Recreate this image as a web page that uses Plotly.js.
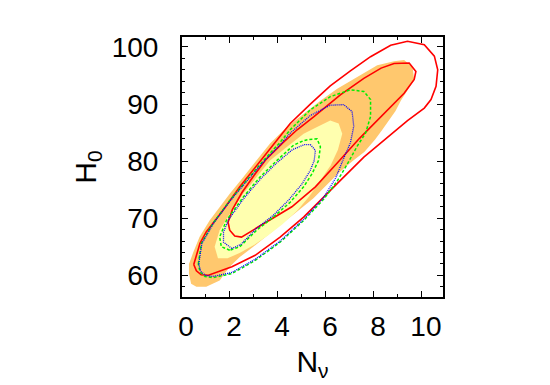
<!DOCTYPE html>
<html>
<head>
<meta charset="utf-8">
<script src="https://cdn.plot.ly/plotly-3.0.1.min.js"></script>
<style>
  html, body { margin: 0; padding: 0; background: #fff; }
  #plot { width: 550px; height: 385px; }
</style>
</head>
<body>
<div id="plot"></div>
<script>
// 2 sigma filled region (orange)
var fill2x = [0.60, 0.38, 0.29, 0.29, 0.45, 0.73, 1.15, 1.57, 1.99, 2.55, 3.11, 3.67, 4.37, 5.07, 5.77, 6.47, 7.30, 8.14, 8.84, 9.26, 9.61, 9.68, 9.40, 9.12, 8.90, 8.65, 8.35, 8.05, 7.60, 7.10, 6.60, 6.05, 5.48, 4.93, 4.23, 3.67, 2.97, 2.41, 1.99, 1.57, 1.01];
var fill2y = [58.0, 58.5, 60.3, 62.0, 63.8, 66.7, 69.6, 72.0, 74.3, 77.2, 80.1, 83.1, 86.0, 88.3, 90.6, 92.7, 94.7, 96.8, 97.5, 97.7, 96.5, 94.2, 92.4, 90.6, 88.8, 87.2, 85.5, 83.8, 81.6, 80.0, 78.2, 75.9, 73.5, 71.6, 69.2, 67.3, 65.0, 63.2, 61.5, 59.1, 58.0];

// 1 sigma filled region (yellow)
var fill1x = [1.50, 1.36, 1.57, 1.99, 2.55, 3.11, 3.67, 4.37, 5.07, 5.63, 6.18, 6.53, 6.68, 6.50, 6.20, 5.80, 5.30, 4.80, 4.20, 3.60, 3.00, 2.40, 1.90];
var fill1y = [63.0, 65.0, 67.9, 70.8, 74.3, 77.2, 80.1, 82.5, 84.8, 86.0, 87.1, 86.6, 84.8, 82.0, 79.3, 76.8, 73.8, 71.3, 69.0, 67.0, 65.3, 63.9, 63.0];

// red contours
var red2x = [0.49, 0.75, 1.01, 1.71, 2.41, 3.11, 3.81, 4.51, 5.35, 6.18, 7.02, 7.86, 8.70, 9.40, 10.10, 10.52, 10.66, 10.59, 10.38, 10.10, 9.40, 8.42, 7.58, 6.74, 5.90, 5.07, 4.09, 3.05, 2.08, 1.10, 0.80, 0.60, 0.49];
var red2y = [61.9, 65.6, 67.6, 71.4, 75.5, 79.2, 82.8, 86.6, 90.0, 93.2, 95.8, 98.3, 100.3, 101.0, 100.4, 98.4, 96.0, 93.1, 90.8, 89.3, 87.1, 83.6, 80.7, 77.2, 73.7, 70.2, 66.7, 63.5, 61.5, 60.0, 60.1, 60.8, 61.9];
var red1x = [1.99, 1.92, 2.10, 2.50, 3.00, 3.50, 4.20, 4.80, 5.50, 6.60, 7.58, 8.30, 8.84, 9.47, 9.75, 9.68, 9.26, 8.42, 7.40, 6.50, 5.56, 4.58, 3.46, 2.48, 2.20, 1.99];
var red1y = [67.9, 69.3, 71.5, 74.5, 77.5, 80.3, 83.2, 85.5, 87.8, 91.6, 94.5, 96.3, 97.1, 97.2, 95.7, 94.3, 91.9, 88.3, 84.0, 79.8, 75.5, 72.0, 69.1, 66.7, 66.9, 67.9];

// green contours
var green2x = [0.68, 0.81, 1.29, 1.99, 2.69, 3.39, 4.09, 4.51, 5.35, 6.18, 7.02, 7.58, 7.86, 7.86, 7.65, 7.30, 6.88, 6.47, 5.90, 5.07, 4.09, 3.05, 2.08, 1.30, 0.96, 0.75, 0.68];
var green2y = [62.0, 65.6, 69.1, 73.1, 76.6, 80.1, 83.3, 85.5, 89.0, 91.3, 92.5, 92.2, 90.8, 87.8, 84.9, 82.6, 79.4, 76.5, 73.3, 69.6, 65.8, 62.6, 60.3, 59.6, 59.8, 60.6, 62.0];
var green1x = [1.99, 1.64, 1.57, 1.85, 2.55, 3.25, 3.95, 4.65, 5.07, 5.27, 5.63, 5.77, 5.69, 5.42, 5.07, 4.51, 3.81, 3.11, 2.41, 1.99];
var green1y = [64.4, 65.0, 66.7, 69.6, 73.7, 77.2, 80.1, 82.8, 83.6, 83.8, 83.9, 82.5, 80.1, 77.8, 75.5, 72.8, 70.2, 67.9, 65.0, 64.4];

// blue contours
var blue2x = [0.70, 0.83, 1.31, 2.00, 2.70, 3.40, 4.10, 4.51, 5.35, 6.18, 6.74, 7.09, 7.16, 7.02, 6.74, 6.40, 5.90, 5.07, 4.09, 3.05, 2.08, 1.30, 0.98, 0.78, 0.70];
var blue2y = [62.0, 65.6, 69.1, 73.0, 76.5, 79.9, 82.9, 84.9, 88.0, 89.8, 89.9, 88.7, 86.1, 83.2, 80.5, 77.0, 73.6, 69.8, 66.0, 62.8, 60.5, 59.8, 60.0, 60.7, 62.0];
var blue1x = [2.08, 1.73, 1.73, 1.95, 2.60, 3.30, 3.95, 4.60, 5.10, 5.35, 5.56, 5.51, 5.35, 5.00, 4.45, 3.80, 3.10, 2.45, 2.08];
var blue1y = [64.7, 65.8, 67.6, 69.8, 73.6, 77.0, 79.7, 82.0, 82.9, 82.9, 81.9, 80.1, 78.4, 76.0, 73.2, 70.5, 68.2, 65.4, 64.7];

var orange = 'rgb(255,200,110)';
var yellow = 'rgb(255,255,175)';

function area(x, y, c) {
    return {x: x, y: y, mode: 'lines', fill: 'toself', fillcolor: c,
            line: {width: 0, color: c}, hoverinfo: 'none'};
}
function contour(x, y, c, w, dash) {
    return {x: x, y: y, mode: 'lines', hoverinfo: 'none',
            line: {color: c, width: w, dash: dash}};
}

var data = [
    area(fill2x, fill2y, orange),
    area(fill1x, fill1y, yellow),
    contour(red2x, red2y, '#ff0000', 1.6, 'solid'),
    contour(red1x, red1y, '#ff0000', 1.6, 'solid'),
    contour(green2x, green2y, '#00ee00', 1.5, '3px,2px'),
    contour(green1x, green1y, '#00ee00', 1.5, '3px,2px'),
    contour(blue2x, blue2y, '#0000ff', 1.3, '1px,1px'),
    contour(blue1x, blue1y, '#0000ff', 1.3, '1px,1px')
];

var tickfont = {family: 'Liberation Sans, Arial, sans-serif', size: 28, color: '#000'};
var titlefont = {family: 'Liberation Sans, Arial, sans-serif', size: 30, color: '#000'};

var layout = {
    width: 550,
    height: 385,
    showlegend: false,
    paper_bgcolor: '#fff',
    plot_bgcolor: '#fff',
    margin: {l: 182, r: 107, t: 37, b: 88},
    xaxis: {
        range: [0, 10.88],
        tickmode: 'linear', tick0: 0, dtick: 2,
        ticks: 'inside', ticklen: 6, tickwidth: 1, tickcolor: '#000',
        minor: {ticks: 'inside', ticklen: 3, dtick: 1, tickcolor: '#000'},
        showline: true, linecolor: '#000', linewidth: 2, mirror: 'allticks',
        showgrid: false, zeroline: false,
        tickfont: tickfont,
        ticklabelstandoff: 3,
        ticklabelshift: 4,
        title: {text: 'N<sub>ν</sub>', font: titlefont, standoff: 10}
    },
    yaxis: {
        range: [56.2, 101.75],
        tickmode: 'linear', tick0: 60, dtick: 10,
        ticks: 'inside', ticklen: 6, tickwidth: 1, tickcolor: '#000',
        minor: {ticks: 'inside', ticklen: 3, dtick: 2, tickcolor: '#000'},
        showline: true, linecolor: '#000', linewidth: 2, mirror: 'allticks',
        showgrid: false, zeroline: false,
        tickfont: tickfont,
        ticklabelstandoff: 16,
        title: {text: 'H<sub>0</sub>', font: titlefont, standoff: 6}
    }
};

Plotly.newPlot('plot', data, layout, {displayModeBar: false, staticPlot: true});
</script>
</body>
</html>
